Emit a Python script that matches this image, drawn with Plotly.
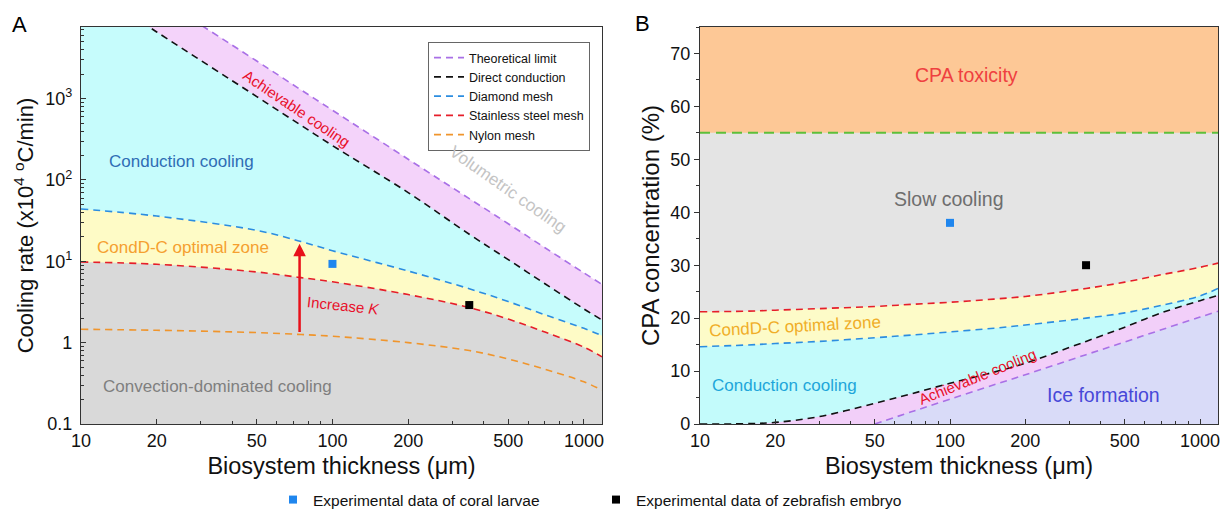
import numpy as np
import plotly.graph_objects as go

# ---------------- data ----------------
# Panel A : cooling rate (x10^4 °C/min) vs biosystem thickness (µm), log-log
X_A = [10, 20, 50, 75, 100, 200, 350, 500, 700, 1000, 1180]
THEORETICAL_A = [72000, 18000, 2900, 1280, 720, 180, 59, 29, 14.7, 7.2, 5.2]
DIRECT_A = [26500, 6600, 1060, 470, 265, 70, 21.5, 10.5, 5.3, 2.6, 1.9]
DIAMOND_A = [44, 36, 24, 17.5, 13.5, 7.6, 4.6, 3.2, 2.2, 1.5, 1.22]
STAINLESS_A = [9.8, 9.2, 7.4, 6.3, 5.6, 3.9, 2.7, 1.95, 1.35, 0.88, 0.67]
NYLON_A = [1.46, 1.42, 1.33, 1.26, 1.2, 1.0, 0.8, 0.63, 0.47, 0.33, 0.26]

# Panel B : CPA concentration (%) vs biosystem thickness (µm)
X_B = [10, 15, 20, 30, 50, 70, 100, 150, 200, 350, 500, 700, 1000, 1180]
STAINLESS_B = [21.2, 21.3, 21.5, 21.8, 22.2, 22.6, 23.0, 23.6, 24.1, 25.6, 26.8, 28.2, 29.6, 30.4]
DIAMOND_B = [14.6, 14.9, 15.2, 15.6, 16.3, 16.8, 17.4, 18.1, 18.7, 20.0, 21.0, 22.4, 24.2, 25.6]
DIRECT_B = [0.0, 0.05, 0.3, 1.4, 3.9, 5.7, 7.7, 9.8, 11.5, 15.6, 18.3, 21.0, 23.3, 24.3]
X_THEO_B = [50, 70, 100, 150, 200, 350, 500, 700, 1000, 1180]
THEORETICAL_B = [0.0, 2.3, 4.7, 7.4, 9.3, 13.1, 15.5, 17.8, 20.2, 21.3]
TOXICITY_X = [10, 1180]
TOXICITY_Y = [55, 55]

# experimental points
CORAL_X = [100]
CORAL_A = [9.3]
CORAL_B = [38]
ZEBRA_X = [350]
ZEBRA_A = [2.9]
ZEBRA_B = [30]

# "Increase K" arrow (panel A)
ARROW_X = 74
ARROW_Y0 = 1.3
ARROW_Y1 = 16.5

# axis ranges / ticks
X_MIN, X_MAX = 10, 1180
YA_MIN, YA_MAX = 0.1, 7600
YB_MIN, YB_MAX = 0, 75
X_TICKS = [10, 20, 50, 100, 200, 500, 1000]
X_TICK_TEXT = ["10", "20", "50", "100", "200", "500", "1000"]
X_MINOR = [30, 40, 60, 70, 80, 90, 300, 400, 600, 700, 800, 900]
YA_TICKS = [0.1, 1, 10, 100, 1000]
YA_TICK_TEXT = ["0.1", "1", "10<sup>1</sup>", "10<sup>2</sup>", "10<sup>3</sup>"]
YA_MINOR = [m * d for d in [0.1, 1, 10, 100, 1000] for m in range(2, 10)]
YB_TICKS = [0, 10, 20, 30, 40, 50, 60, 70]

# ---------------- styling ----------------
FONT = "Liberation Sans, Arial, sans-serif"
C_PURPLE = "#a970e6"
C_BLACK = "#111111"
C_BLUE = "#2c8de0"
C_RED = "#e61e2a"
C_ORANGE = "#f0952c"
C_GREEN = "#5dbf3a"
DASH = "7px,5px"

fig = go.Figure()


def fill(x, y, color, xa="x", ya="y"):
    fig.add_trace(go.Scatter(x=x, y=y, mode="lines", line=dict(width=0, shape="spline"),
                             fill="tozeroy", fillcolor=color, xaxis=xa, yaxis=ya,
                             showlegend=False, hoverinfo="skip"))


def line(x, y, color, name, xa="x", ya="y", show=False, dash=DASH, width=1.6):
    fig.add_trace(go.Scatter(x=x, y=y, mode="lines", name=name,
                             line=dict(color=color, width=width, dash=dash, shape="spline"),
                             xaxis=xa, yaxis=ya, showlegend=show, legend="legend"))


# ----- Panel A fills (painted from top curve downward) -----
fill(X_A, THEORETICAL_A, "#f4d3fa")
fill(X_A, DIRECT_A, "#c6fcfc")
fill(X_A, DIAMOND_A, "#fefbc6")
fill(X_A, STAINLESS_A, "#d9d9d9")

# ----- Panel B fills -----
fill(TOXICITY_X, TOXICITY_Y, "#e4e4e4", "x2", "y2")
fill(X_B, STAINLESS_B, "#fdfbc8", "x2", "y2")
fill(X_B, DIAMOND_B, "#c3fbfb", "x2", "y2")
fill(X_B, DIRECT_B, "#f2cff9", "x2", "y2")
fill(X_THEO_B, THEORETICAL_B, "#d9dbf8", "x2", "y2")

# ----- Panel A lines -----
line(X_A, THEORETICAL_A, C_PURPLE, "Theoretical limit", show=True)
line(X_A, DIRECT_A, C_BLACK, "Direct conduction", show=True)
line(X_A, DIAMOND_A, C_BLUE, "Diamond mesh", show=True)
line(X_A, STAINLESS_A, C_RED, "Stainless steel mesh", show=True)
line(X_A, NYLON_A, C_ORANGE, "Nylon mesh", show=True)

# ----- Panel B lines -----
line(TOXICITY_X, TOXICITY_Y, C_GREEN, "CPA toxicity", "x2", "y2", dash="10px,6px", width=2)
line(X_B, STAINLESS_B, C_RED, "Stainless steel mesh", "x2", "y2")
line(X_B, DIAMOND_B, C_BLUE, "Diamond mesh", "x2", "y2")
line(X_B, DIRECT_B, C_BLACK, "Direct conduction", "x2", "y2")
line(X_THEO_B, THEORETICAL_B, C_PURPLE, "Theoretical limit", "x2", "y2")

# ----- experimental points -----
MK = dict(symbol="square", size=8)
fig.add_trace(go.Scatter(x=CORAL_X, y=CORAL_A, mode="markers", name="Experimental data of coral larvae",
                         marker=dict(color="#1f86ee", **MK), legend="legend2", showlegend=True))
fig.add_trace(go.Scatter(x=ZEBRA_X, y=ZEBRA_A, mode="markers", name="Experimental data of zebrafish embryo",
                         marker=dict(color="#000000", **MK), legend="legend2", showlegend=True))
fig.add_trace(go.Scatter(x=CORAL_X, y=CORAL_B, mode="markers", marker=dict(color="#1f86ee", **MK),
                         xaxis="x2", yaxis="y2", showlegend=False))
fig.add_trace(go.Scatter(x=ZEBRA_X, y=ZEBRA_B, mode="markers", marker=dict(color="#000000", **MK),
                         xaxis="x2", yaxis="y2", showlegend=False))

# ---------------- axes ----------------
AXC = "#333333"
W, H = 1222, 520
ML, MR, MT, MB = 81, 4, 27, 95
PW = W - ML - MR
PH = H - MT - MB
dom_a = [0, (602 - ML) / PW]
dom_b = [(700 - ML) / PW, 1.0]

tickfont = dict(family=FONT, size=18, color="#111")


def tfont(size):
    return dict(family=FONT, size=size, color="#111")


xcommon = dict(type="log", range=[np.log10(X_MIN), np.log10(X_MAX)], tickmode="array",
               tickvals=X_TICKS, ticktext=X_TICK_TEXT, ticks="inside", ticklen=5, tickwidth=1,
               tickcolor=AXC, showline=True, linecolor=AXC, linewidth=1.3, mirror=True,
               showgrid=False, zeroline=False, tickfont=tickfont, automargin=False,
               minor=dict(tickmode="array", tickvals=X_MINOR, ticks="inside", ticklen=3,
                          tickcolor=AXC, showgrid=False),
               title=dict(text="Biosystem thickness (μm)", font=tfont(23.5), standoff=7))

fig.update_layout(
    width=W, height=H, autosize=False,
    margin=dict(l=ML, r=MR, t=MT, b=MB),
    plot_bgcolor="white", paper_bgcolor="white",
    font=dict(family=FONT),
    xaxis=dict(domain=dom_a, anchor="y", **xcommon),
    xaxis2=dict(domain=dom_b, anchor="y2", **xcommon),
    yaxis=dict(type="log", range=[np.log10(YA_MIN), np.log10(YA_MAX)], anchor="x",
               tickmode="array", tickvals=YA_TICKS, ticktext=YA_TICK_TEXT,
               ticks="inside", ticklen=5, tickcolor=AXC, showline=True, linecolor=AXC,
               linewidth=1.3, mirror=True, showgrid=False, zeroline=False, tickfont=tickfont,
               ticklabelstandoff=4, automargin=False,
               minor=dict(tickmode="array", tickvals=YA_MINOR, ticks="inside", ticklen=3,
                          tickcolor=AXC, showgrid=False),
               title=dict(text="Cooling rate (x10<sup>4</sup> <sup>o</sup>C/min)",
                          font=tfont(22), standoff=5)),
    yaxis2=dict(range=[YB_MIN, YB_MAX], anchor="x2", tickmode="array", tickvals=YB_TICKS,
                ticks="outside", ticklen=5, tickcolor=AXC, showline=True, linecolor=AXC,
                linewidth=1.3, mirror=True, showgrid=False, zeroline=False, tickfont=tickfont,
                automargin=False,
                minor=dict(dtick=5, ticks="outside", ticklen=3, tickcolor=AXC, showgrid=False),
                title=dict(text="CPA concentration (%)", font=tfont(24), standoff=3)),
    legend=dict(x=(428 - ML) / PW, y=1 - (42 - MT) / PH, xanchor="left", yanchor="top",
                bgcolor="white", bordercolor="#666", borderwidth=1,
                font=dict(family=FONT, size=12.5, color="#111"), tracegroupgap=0),
    legend2=dict(orientation="h", x=(273 - ML) / PW, y=(425 - 500) / PH,
                 xanchor="left", yanchor="middle", bgcolor="rgba(0,0,0,0)",
                 font=dict(family=FONT, size=15.5, color="#111"),
                 entrywidth=278, entrywidthmode="pixels"),
    shapes=[dict(type="rect", xref="x2 domain", yref="y2 domain", x0=0, x1=1, y0=0, y1=1,
                 fillcolor="#fdc896", line=dict(width=0), layer="below")],
)

L = np.log10


def note(text, x, y, color, size, angle=0, xa="x", ya="y", log=True):
    fig.add_annotation(text=text, x=L(x), y=(L(y) if log else y), xref=xa, yref=ya,
                       showarrow=False, textangle=angle,
                       font=dict(family=FONT, size=size, color=color))


# Panel A labels
note("Conduction cooling", 25, 170, "#2f6db5", 17)
note("CondD-C optimal zone", 25.5, 14.8, "#f5a030", 17)
note("Convection-dominated cooling", 35, 0.29, "#7f7f7f", 17)
note("Achievable cooling", 72, 755, "#e8102a", 15, angle=34)
note("Volumetric cooling", 500, 77, "#c4c4c4", 17, angle=35)
note("Increase <i>K</i>", 111, 2.9, "#e8102a", 15, angle=6)
fig.add_annotation(x=L(ARROW_X), y=L(ARROW_Y1), ax=L(ARROW_X), ay=L(ARROW_Y0),
                   xref="x", yref="y", axref="x", ayref="y", text="", showarrow=True,
                   arrowhead=2, arrowsize=1, arrowwidth=2.5, arrowcolor="#e8101a")

# Panel B labels
note("CPA toxicity", 116, 66, "#ef4040", 19.5, xa="x2", ya="y2", log=False)
note("Slow cooling", 99, 42.5, "#6e6e6e", 19.5, xa="x2", ya="y2", log=False)
note("CondD-C optimal zone", 23.9, 18.5, "#f0ae28", 17, angle=-3, xa="x2", ya="y2", log=False)
note("Conduction cooling", 21.8, 7.2, "#1ea6da", 17, xa="x2", ya="y2", log=False)
note("Achievable cooling", 129, 8.9, "#e8102a", 15, angle=-22, xa="x2", ya="y2", log=False)
note("Ice formation", 411, 5.5, "#4848d8", 19.5, xa="x2", ya="y2", log=False)

# panel letters
for letter, px, py in (("A", 19, 24), ("B", 642, 23)):
    fig.add_annotation(text=letter, xref="paper", yref="paper", x=(px - ML) / PW,
                       y=1 + (MT - py) / PH, xanchor="center", yanchor="middle",
                       showarrow=False, font=dict(family=FONT, size=22, color="#000"))

fig.write_html("out.html")
